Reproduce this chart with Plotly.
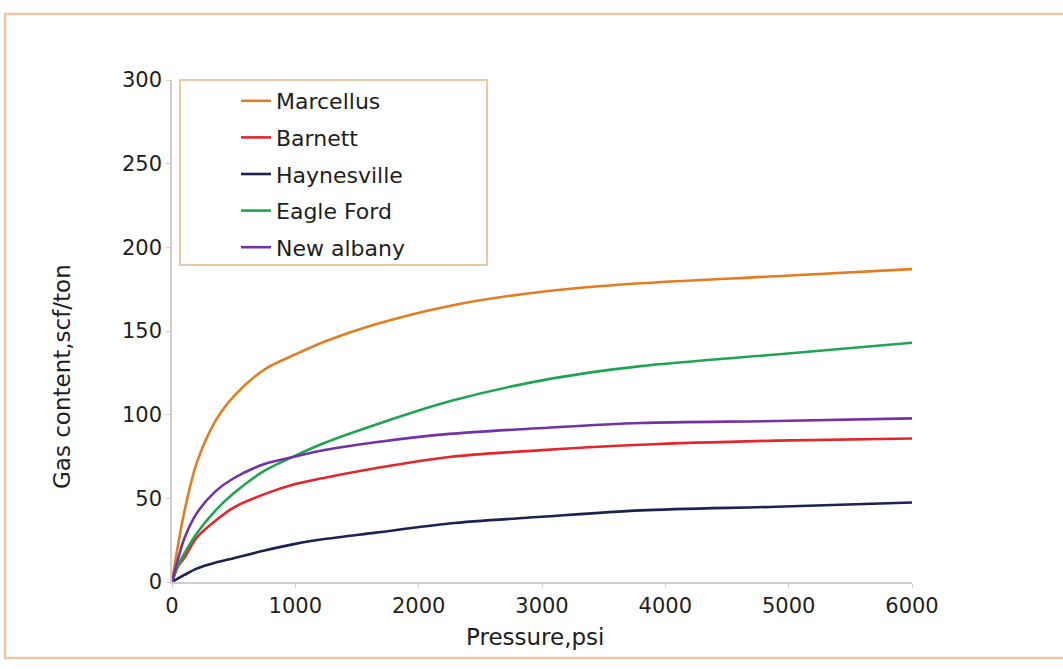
import plotly.graph_objects as go

# Adsorbed gas content vs. pressure for five shale plays
pressure = [0, 50, 100, 200, 350, 500, 750, 1000, 1250, 1650, 2250, 3000,
            3800, 4900, 6000]

marcellus = [0, 22.5, 42, 71, 96, 111, 127, 136, 144, 154, 165, 173.5,
             178.5, 182.7, 187]
barnett = [0, 9.5, 14.5, 26.5, 36.5, 44.5, 52.5, 58.5, 62.5, 68, 74.7, 78.8,
           82, 84.5, 85.8]
haynesville = [0, 2.2, 4.2, 8, 11.5, 14.2, 18.8, 22.8, 25.8, 29.5, 35, 39,
               42.8, 45, 47.5]
eagle_ford = [0, 10, 17, 29, 42.5, 53, 66.5, 75.5, 83.5, 94, 108, 120.5,
              129, 136, 143]
new_albany = [0, 14, 26, 41, 54, 62, 70.5, 75, 79, 83.5, 88.5, 92,
              95, 96.2, 97.8]

series = [
    ("Marcellus", marcellus, "#e27d22"),
    ("Barnett", barnett, "#e2262b"),
    ("Haynesville", haynesville, "#1b2352"),
    ("Eagle Ford", eagle_ford, "#1fa552"),
    ("New albany", new_albany, "#7233a6"),
]

FONT = "DejaVu Sans"
PEACH = "#ecc9a6"
TEXT = "#1e1e1e"

fig = go.Figure()
for name, values, color in series:
    fig.add_trace(go.Scatter(
        x=pressure, y=values, name=name, mode="lines",
        line=dict(color=color, width=2.6, shape="spline", smoothing=0.9),
        legendgroup=name,
    ))

W, H = 1063, 669
L, R, T, B = 172, 912, 80, 582


def px(x):
    return (x - L) / (R - L)


def py(y):
    return (B - y) / (B - T)


axis_style = dict(
    showgrid=False, zeroline=False,
    showline=True, linecolor="#cfcfcf", linewidth=1.5,
    ticks="outside", ticklen=4, tickcolor="#cfcfcf",
    tickfont=dict(family=FONT, size=21, color=TEXT),
    fixedrange=True,
)

fig.update_layout(
    width=W, height=H,
    margin=dict(l=L, r=W - R, t=T, b=H - B),
    paper_bgcolor="white",
    plot_bgcolor="white",
    font=dict(family=FONT, color=TEXT, size=21),
    showlegend=True,
    legend=dict(
        x=px(236), y=py(80),
        xanchor="left", yanchor="top",
        bgcolor="rgba(0,0,0,0)", borderwidth=0,
        font=dict(family=FONT, size=22, color=TEXT),
        tracegroupgap=5,
    ),
    xaxis=dict(range=[0, 6000],
               tickvals=[0, 1000, 2000, 3000, 4000, 5000, 6000],
               **axis_style),
    yaxis=dict(range=[0, 300],
               tickvals=[0, 50, 100, 150, 200, 250, 300],
               **axis_style),
    shapes=[
        # outer frame
        dict(type="rect", xref="paper", yref="paper",
             x0=px(5), x1=px(1075), y0=py(658), y1=py(14),
             line=dict(color=PEACH, width=2.5), layer="below"),
        # legend box
        dict(type="rect", xref="paper", yref="paper",
             x0=px(180), x1=px(487), y0=py(265), y1=py(80),
             line=dict(color=PEACH, width=2), fillcolor="white",
             layer="below"),
    ],
    annotations=[
        dict(text="Pressure,psi", xref="paper", yref="paper",
             x=px(535), y=py(637),
             xanchor="center", yanchor="middle", showarrow=False,
             font=dict(family=FONT, size=23, color=TEXT)),
        dict(text="Gas content,scf/ton", xref="paper", yref="paper",
             x=px(62), y=py(377),
             xanchor="center", yanchor="middle", showarrow=False,
             textangle=-90,
             font=dict(family=FONT, size=23, color=TEXT)),
    ],
)

fig.write_html("out.html")
